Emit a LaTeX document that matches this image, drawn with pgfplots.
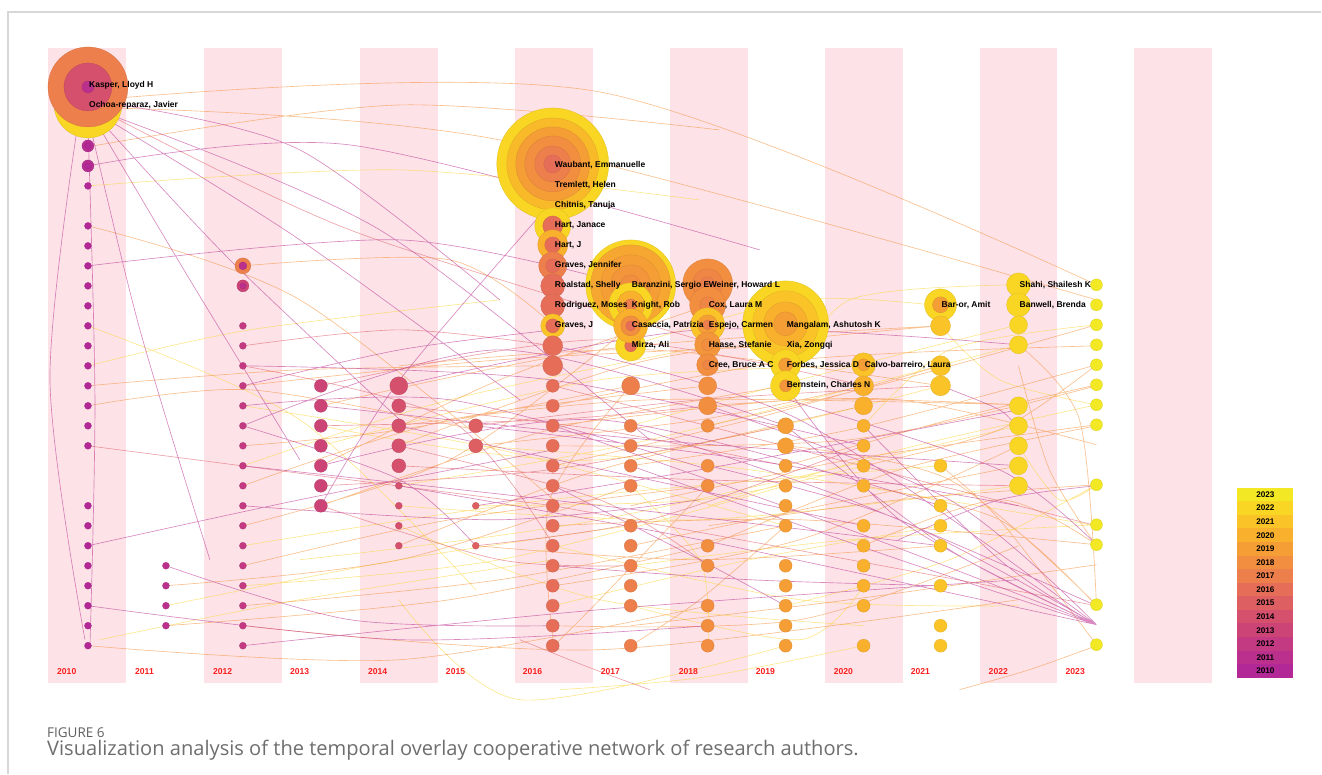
\documentclass[border=0pt]{standalone}
\usepackage{pgfplots}
\pgfplotsset{compat=1.18}
\usepackage{fontspec}
\setmainfont{Liberation Sans}
\newfontfamily\capfont{Open Sans}
\definecolor{yr2010}{RGB}{178,40,150}
\definecolor{yr2011}{RGB}{186,48,140}
\definecolor{yr2012}{RGB}{195,58,130}
\definecolor{yr2013}{RGB}{204,68,118}
\definecolor{yr2014}{RGB}{212,80,108}
\definecolor{yr2015}{RGB}{221,95,98}
\definecolor{yr2016}{RGB}{230,110,88}
\definecolor{yr2017}{RGB}{237,127,76}
\definecolor{yr2018}{RGB}{242,142,64}
\definecolor{yr2019}{RGB}{245,158,54}
\definecolor{yr2020}{RGB}{248,176,45}
\definecolor{yr2021}{RGB}{250,196,40}
\definecolor{yr2022}{RGB}{248,214,35}
\definecolor{yr2023}{RGB}{242,232,36}
\definecolor{stripe}{RGB}{253,227,232}
\definecolor{eP}{RGB}{190,60,150}
\definecolor{eR}{RGB}{225,100,110}
\definecolor{eO}{RGB}{245,150,70}
\definecolor{eY}{RGB}{250,215,70}
\definecolor{yrlab}{RGB}{250,30,30}
\definecolor{frame}{RGB}{215,215,215}
\begin{document}
\begin{tikzpicture}
\begin{axis}[
  set layers,
  scale only axis, width=1322pt, height=774pt,
  xmin=0, xmax=1322, ymin=0, ymax=774, y dir=reverse,
  hide axis, clip=false,
  colormap={yrs}{rgb255=(178,40,150) rgb255=(186,48,140) rgb255=(195,58,130) rgb255=(204,68,118) rgb255=(212,80,108) rgb255=(221,95,98) rgb255=(230,110,88) rgb255=(237,127,76) rgb255=(242,142,64) rgb255=(245,158,54) rgb255=(248,176,45) rgb255=(250,196,40) rgb255=(248,214,35) rgb255=(242,232,36)},
  point meta min=2010, point meta max=2023,
  edge/.style={smooth, unbounded coords=jump, line width=0.65pt, opacity=0.6, forget plot},
]
\path (axis cs:0,0) rectangle (axis cs:1322,774);
% frame
\addplot[draw=frame, line width=1.3pt, forget plot] coordinates {(8,774) (8,12) (1322,12)};
% stripes
\addplot[fill=stripe, draw=none] coordinates {(48,48) (126,48) (126,683) (48,683)};
\addplot[fill=stripe, draw=none] coordinates {(204,48) (282,48) (282,683) (204,683)};
\addplot[fill=stripe, draw=none] coordinates {(360,48) (438,48) (438,683) (360,683)};
\addplot[fill=stripe, draw=none] coordinates {(515,48) (593,48) (593,683) (515,683)};
\addplot[fill=stripe, draw=none] coordinates {(670,48) (748,48) (748,683) (670,683)};
\addplot[fill=stripe, draw=none] coordinates {(825,48) (903,48) (903,683) (825,683)};
\addplot[fill=stripe, draw=none] coordinates {(980,48) (1058,48) (1058,683) (980,683)};
\addplot[fill=stripe, draw=none] coordinates {(1135,48) (1213,48) (1213,683) (1135,683)};
% edges - yellow
\addplot[edge, draw=eY] table[row sep=\\]{x y\\
88 186\\ 400 170\\ 700 200\\ nan nan\\
88 326\\ 300 420\\ 476 590\\ nan nan\\
100 640\\ 300 600\\ 554 560\\ nan nan\\
243 406\\ 500 450\\ 786 526\\ nan nan\\
399 506\\ 700 520\\ 1019 486\\ nan nan\\
631 606\\ 800 640\\ 864 586\\ nan nan\\
399 600\\ 520 700\\ 786 646\\ nan nan\\
560 690\\ 700 678\\ 864 646\\ nan nan\\
864 426\\ 950 350\\ 1097 325\\ nan nan\\
941 326\\ 1000 380\\ 1097 405\\ nan nan\\
1019 446\\ 1060 500\\ 1097 485\\ nan nan\\
786 386\\ 850 300\\ 1019 285\\ nan nan\\
631 346\\ 800 300\\ 941 306\\ nan nan\\
243 546\\ 550 500\\ 941 466\\ nan nan\\
321 446\\ 600 380\\ 864 366\\ nan nan\\
476 446\\ 750 470\\ 1097 526\\ nan nan\\
554 606\\ 750 560\\ 941 526\\ nan nan\\
88 366\\ 250 330\\ 500 300\\ nan nan\\
631 486\\ 700 560\\ 709 640\\ nan nan\\
166 606\\ 400 560\\ 631 526\\ nan nan\\
300 560\\ 600 520\\ 1019 426\\ nan nan\\
321 426\\ 600 460\\ 941 386\\ nan nan\\
399 486\\ 650 440\\ 1019 345\\ nan nan\\
476 506\\ 700 500\\ 864 466\\ nan nan\\
243 466\\ 450 400\\ 709 346\\ nan nan\\
243 586\\ 500 560\\ 786 486\\ nan nan\\
631 426\\ 800 380\\ 1019 325\\ nan nan\\
709 506\\ 900 450\\ 1097 405\\ nan nan\\
554 546\\ 800 600\\ 1019 606\\ nan nan\\
399 526\\ 600 600\\ 864 626\\ nan nan\\
786 606\\ 950 560\\ 1097 485\\ nan nan\\
631 566\\ 850 540\\ 1097 525\\ nan nan\\
};
% edges - orange
\addplot[edge, draw=eO] table[row sep=\\]{x y\\
96 100\\ 600 92\\ 1097 285\\ nan nan\\
93 146\\ 400 105\\ 720 130\\ nan nan\\
110 108\\ 500 140\\ 1097 300\\ nan nan\\
88 226\\ 300 300\\ 554 500\\ nan nan\\
88 406\\ 250 390\\ 476 430\\ nan nan\\
243 446\\ 400 430\\ 631 386\\ nan nan\\
243 486\\ 450 420\\ 709 386\\ nan nan\\
321 506\\ 550 430\\ 786 386\\ nan nan\\
399 546\\ 600 470\\ 864 406\\ nan nan\\
554 426\\ 800 400\\ 1019 405\\ nan nan\\
554 446\\ 850 440\\ 1097 386\\ nan nan\\
631 466\\ 850 430\\ 1097 365\\ nan nan\\
709 426\\ 900 380\\ 1097 325\\ nan nan\\
786 466\\ 950 420\\ 1097 385\\ nan nan\\
554 526\\ 800 520\\ 1097 545\\ nan nan\\
631 546\\ 850 500\\ 1019 466\\ nan nan\\
476 546\\ 700 560\\ 941 546\\ nan nan\\
243 566\\ 450 520\\ 709 486\\ nan nan\\
166 586\\ 400 560\\ 631 486\\ nan nan\\
88 646\\ 400 660\\ 709 606\\ nan nan\\
243 626\\ 600 650\\ 1019 600\\ nan nan\\
864 486\\ 1000 520\\ 1097 606\\ nan nan\\
941 466\\ 1000 520\\ 1097 645\\ nan nan\\
1019 366\\ 1050 470\\ 1097 546\\ nan nan\\
1019 345\\ 1080 420\\ 1097 606\\ nan nan\\
1097 646\\ 1030 670\\ 960 690\\ nan nan\\
554 366\\ 300 370\\ 88 386\\ nan nan\\
554 326\\ 450 260\\ 243 266\\ nan nan\\
631 386\\ 550 500\\ 554 646\\ nan nan\\
709 486\\ 600 600\\ 554 646\\ nan nan\\
786 526\\ 700 600\\ 631 646\\ nan nan\\
321 466\\ 500 380\\ 709 305\\ nan nan\\
243 526\\ 450 460\\ 631 326\\ nan nan\\
399 446\\ 650 360\\ 941 326\\ nan nan\\
554 406\\ 800 360\\ 1097 346\\ nan nan\\
709 546\\ 900 470\\ 1097 426\\ nan nan\\
864 546\\ 1000 500\\ 1097 545\\ nan nan\\
243 386\\ 500 360\\ 786 346\\ nan nan\\
321 406\\ 600 350\\ 941 326\\ nan nan\\
399 426\\ 650 400\\ 1019 405\\ nan nan\\
476 446\\ 700 420\\ 864 386\\ nan nan\\
554 466\\ 750 420\\ 941 366\\ nan nan\\
631 506\\ 850 460\\ 1097 425\\ nan nan\\
709 526\\ 900 500\\ 1097 485\\ nan nan\\
243 606\\ 500 580\\ 786 526\\ nan nan\\
166 626\\ 450 600\\ 709 546\\ nan nan\\
554 586\\ 800 540\\ 1019 446\\ nan nan\\
631 626\\ 850 600\\ 1097 565\\ nan nan\\
399 366\\ 650 350\\ 941 386\\ nan nan\\
786 446\\ 950 480\\ 1097 605\\ nan nan\\
864 466\\ 1000 430\\ 1097 365\\ nan nan\\
709 406\\ 900 400\\ 1097 445\\ nan nan\\
554 626\\ 800 620\\ 1019 546\\ nan nan\\
};
% edges - red
\addplot[edge, draw=eR] table[row sep=\\]{x y\\
321 386\\ 600 340\\ 864 386\\ nan nan\\
321 426\\ 550 420\\ 709 406\\ nan nan\\
399 466\\ 700 480\\ 1019 486\\ nan nan\\
243 346\\ 400 330\\ 554 346\\ nan nan\\
554 386\\ 800 450\\ 1097 526\\ nan nan\\
476 426\\ 700 400\\ 941 386\\ nan nan\\
554 506\\ 850 560\\ 1097 606\\ nan nan\\
399 406\\ 600 430\\ 786 466\\ nan nan\\
88 446\\ 350 480\\ 554 506\\ nan nan\\
520 640\\ 590 668\\ 650 690\\ nan nan\\
100 110\\ 350 230\\ 700 340\\ nan nan\\
321 486\\ 550 470\\ 786 426\\ nan nan\\
399 446\\ 600 500\\ 709 566\\ nan nan\\
476 546\\ 650 520\\ 864 446\\ nan nan\\
321 506\\ 500 560\\ 631 566\\ nan nan\\
243 366\\ 450 420\\ 554 546\\ nan nan\\
};
% edges - purple
\addplot[edge, draw=eP] table[row sep=\\]{x y\\
95 120\\ 190 280\\ 300 460\\ nan nan\\
98 118\\ 230 260\\ 400 420\\ nan nan\\
100 115\\ 300 240\\ 520 400\\ nan nan\\
102 112\\ 380 230\\ 650 440\\ nan nan\\
90 125\\ 140 330\\ 210 560\\ nan nan\\
88 125\\ 95 400\\ 90 646\\ nan nan\\
80 110\\ 50 380\\ 85 640\\ nan nan\\
120 105\\ 300 150\\ 500 300\\ nan nan\\
88 166\\ 350 145\\ 760 250\\ nan nan\\
243 386\\ 400 350\\ 554 330\\ nan nan\\
243 406\\ 450 400\\ 709 470\\ nan nan\\
243 426\\ 400 480\\ 476 546\\ nan nan\\
243 426\\ 500 350\\ 786 426\\ nan nan\\
321 466\\ 600 420\\ 941 506\\ nan nan\\
399 386\\ 700 330\\ 1019 345\\ nan nan\\
399 426\\ 650 480\\ 864 526\\ nan nan\\
554 346\\ 800 420\\ 1097 625\\ nan nan\\
631 426\\ 850 500\\ 1097 606\\ nan nan\\
786 386\\ 900 520\\ 1097 625\\ nan nan\\
786 426\\ 950 550\\ 1097 625\\ nan nan\\
864 426\\ 1000 560\\ 1097 625\\ nan nan\\
709 466\\ 900 520\\ 1097 625\\ nan nan\\
554 486\\ 700 560\\ 786 606\\ nan nan\\
243 506\\ 500 520\\ 700 500\\ nan nan\\
554 566\\ 750 580\\ 941 586\\ nan nan\\
476 506\\ 700 470\\ 1019 410\\ nan nan\\
88 546\\ 300 500\\ 554 450\\ nan nan\\
166 566\\ 350 620\\ 554 626\\ nan nan\\
243 646\\ 600 610\\ 1019 580\\ nan nan\\
788 400\\ 1000 470\\ 1097 545\\ nan nan\\
554 200\\ 400 380\\ 321 506\\ nan nan\\
88 266\\ 400 240\\ 631 286\\ nan nan\\
941 386\\ 1000 410\\ 1019 430\\ nan nan\\
899 540\\ 1000 500\\ 1097 486\\ nan nan\\
243 366\\ 550 380\\ 864 446\\ nan nan\\
321 406\\ 650 440\\ 1019 466\\ nan nan\\
399 486\\ 700 540\\ 1097 625\\ nan nan\\
631 466\\ 900 560\\ 1097 625\\ nan nan\\
554 426\\ 850 530\\ 1097 625\\ nan nan\\
709 406\\ 950 500\\ 1097 625\\ nan nan\\
243 466\\ 550 500\\ 941 546\\ nan nan\\
88 606\\ 400 640\\ 709 626\\ nan nan\\
476 426\\ 750 460\\ 1019 506\\ nan nan\\
};
% nodes
\addplot[scatter, only marks, mark=*, forget plot,
  point meta=\thisrow{c},
  scatter/use mapped color={draw=mapped color!88!black, fill=mapped color},
  visualization depends on={\thisrow{r}\as\rr},
  scatter/@pre marker code/.append style={/tikz/mark size=\rr},
  line width=0.25pt]
table[x=x, y=y, row sep=\\]{x y r c\\
88 104 34 2022\\ 88 87 40 2017\\ 88 87 24 2014\\ 88 87 6 2011\\
88 146 6 2010.5\\ 88 146 3 2010\\ 88 166 6 2010.5\\ 88 166 3 2010\\ 88 186 3.5 2010\\
88 226 3.5 2010\\ 88 246 3.5 2010\\ 88 266 3.5 2010\\ 88 286 3.5 2010\\ 88 306 3.5 2010\\ 88 326 3.5 2010\\
88 346 3.5 2010\\ 88 366 3.5 2010\\ 88 386 3.5 2010\\ 88 406 3.5 2010\\ 88 426 3.5 2010\\ 88 446 3.5 2010\\
88 506 3.5 2010\\ 88 526 3.5 2010\\ 88 546 3.5 2010\\ 88 566 3.5 2010\\ 88 586 3.5 2010\\ 88 606 3.5 2010\\ 88 626 3.5 2010\\ 88 646 3.5 2010\\
166 566 3.5 2011\\ 166 586 3.5 2011\\ 166 606 3.5 2011\\ 166 626 3.5 2011\\
243 266 8 2017\\ 243 266 4 2011\\ 243 286 6 2013\\ 243 286 3 2011\\
243 326 3.5 2012\\ 243 346 3.5 2012\\ 243 366 3.5 2012\\ 243 386 3.5 2012\\ 243 406 3.5 2012\\ 243 426 3.5 2012\\
243 446 3.5 2012\\ 243 466 3.5 2012\\ 243 486 3.5 2012\\ 243 506 3.5 2012\\ 243 526 3.5 2012\\ 243 546 3.5 2012\\
243 566 3.5 2012\\ 243 586 3.5 2012\\ 243 606 3.5 2012\\ 243 626 3.5 2012\\ 243 646 3.5 2012\\
321 386 6.5 2013\\ 321 406 6.5 2013\\ 321 426 6.5 2013\\ 321 446 6.5 2013\\ 321 466 6.5 2013\\ 321 486 6.5 2013\\ 321 506 6.5 2013\\
399 386 9 2014\\ 399 406 7 2014\\ 399 426 7 2014\\ 399 446 7 2014\\ 399 466 7 2014\\
399 486 3.5 2014\\ 399 506 3.5 2014\\ 399 526 3.5 2014\\ 399 546 3.5 2014\\
476 426 7 2015\\ 476 446 7 2015\\ 476 506 3.5 2015\\ 476 546 3.5 2015\\
553 164 56 2022\\ 553 164 46 2020.5\\ 553 164 37 2019\\ 553 164 28 2018\\ 553 164 18 2017\\ 553 164 9 2016\\
553 226 18 2022\\ 553 226 10 2016\\ 553 245 15 2020\\ 553 245 8 2016\\ 553 266 14 2017\\ 553 266 7 2016\\
553 286 12 2016\\ 553 306 12 2016\\ 553 326 12 2021\\ 553 326 7 2016\\ 553 346 10 2016\\ 553 366 10 2016\\
553 386 6.5 2016\\ 553 406 6.5 2016\\ 553 426 6.5 2016\\ 553 446 6.5 2016\\ 553 466 6.5 2016\\ 553 486 6.5 2016\\ 553 506 6.5 2016\\
553 526 6.5 2016\\ 553 546 6.5 2016\\ 553 566 6.5 2016\\ 553 586 6.5 2016\\ 553 606 6.5 2016\\ 553 626 6.5 2016\\ 553 646 6.5 2016\\
631 285 45 2022\\ 631 285 40 2019.5\\ 631 285 30 2019\\ 631 285 20 2018.5\\ 631 285 10 2018\\
631 346 15 2022\\ 631 346 6 2016\\
631 305 22 2022\\ 631 305 14 2020\\ 631 305 6 2017\\
631 326 17 2020\\ 631 326 10 2018\\ 631 326 5 2016\\
631 386 9 2017\\ 631 426 6.5 2017\\ 631 446 6.5 2017\\ 631 466 6.5 2017\\ 631 486 6.5 2017\\ 631 526 6.5 2017\\
631 546 6.5 2017\\ 631 566 6.5 2017\\ 631 586 6.5 2017\\ 631 606 6.5 2017\\ 631 646 6.5 2017\\
708 284 25 2018\\ 708 284 15 2017.5\\ 708 284 7 2017\\
708 305 18 2018\\ 708 305 8 2017.5\\
708 325 17 2021\\ 708 325 10 2019\\ 708 325 5 2017\\
708 345 13 2018.5\\ 708 345 6 2018\\ 708 365 11 2018\\ 708 365 5 2017.5\\
708 386 9 2018\\ 708 406 9 2018\\ 708 426 6.5 2018\\ 708 466 6.5 2018\\ 708 486 6.5 2018\\ 708 546 6.5 2018\\
708 566 6.5 2018\\ 708 606 6.5 2018\\ 708 626 6.5 2018\\ 708 646 6.5 2018\\
786 324 43 2022\\ 786 324 33 2021\\ 786 324 22 2020\\ 786 324 12 2019\\
786 365 15 2022\\ 786 365 7 2019\\ 786 386 15 2022\\ 786 386 6 2018.5\\
786 426 8 2019\\ 786 446 8 2019\\ 786 466 6.5 2019\\ 786 486 6.5 2019\\ 786 506 6.5 2019\\ 786 526 6.5 2019\\
786 566 6.5 2019\\ 786 586 6.5 2019\\ 786 606 6.5 2019\\ 786 626 6.5 2019\\ 786 646 6.5 2019\\
864 365 12 2021\\ 864 365 6 2019\\ 864 386 10 2020\\ 864 406 9 2020\\
864 426 6.5 2020\\ 864 446 6.5 2020\\ 864 466 6.5 2020\\ 864 486 6.5 2020\\ 864 526 6.5 2020\\
864 546 6.5 2020\\ 864 566 6.5 2020\\ 864 586 6.5 2020\\ 864 606 6.5 2020\\ 864 646 6.5 2020\\
941 305 16 2022\\ 941 305 8 2019\\ 941 326 10 2021\\ 941 366 10 2021\\ 941 386 10 2021\\
941 466 6.5 2021\\ 941 506 6.5 2021\\ 941 526 6.5 2021\\ 941 546 6.5 2021\\ 941 586 6.5 2021\\ 941 626 6.5 2021\\ 941 646 6.5 2021\\
1019 285 12 2022\\ 1019 305 12 2022\\ 1019 325 9 2022\\ 1019 345 9 2022\\
1019 406 9 2022\\ 1019 426 9 2022\\ 1019 446 9 2022\\ 1019 466 9 2022\\ 1019 486 9 2022\\
1097 285 6 2023\\ 1097 305 6 2023\\ 1097 325 6 2023\\ 1097 345 6 2023\\ 1097 365 6 2023\\ 1097 385 6 2023\\
1097 405 6 2023\\ 1097 425 6 2023\\ 1097 485 6 2023\\ 1097 525 6 2023\\ 1097 545 6 2023\\ 1097 605 6 2023\\ 1097 645 6 2023\\
};
\begin{pgfonlayer}{axis foreground}
% author labels
\begin{scope}[every node/.style={anchor=west, inner sep=0pt, font=\bfseries\fontsize{8.5}{9}\selectfont}]
\node at (axis cs:89,85) {Kasper, Lloyd H};
\node at (axis cs:89,105) {Ochoa-reparaz, Javier};
\node at (axis cs:555,165) {Waubant, Emmanuelle};
\node at (axis cs:555,185) {Tremlett, Helen};
\node at (axis cs:555,205) {Chitnis, Tanuja};
\node at (axis cs:555,225) {Hart, Janace};
\node at (axis cs:555,245) {Hart, J};
\node at (axis cs:555,265) {Graves, Jennifer};
\node at (axis cs:555,285) {Roalstad, Shelly};
\node at (axis cs:555,305) {Rodriguez, Moses};
\node at (axis cs:555,325) {Graves, J};
\node at (axis cs:632,285) {Baranzini, Sergio E};
\node at (axis cs:632,305) {Knight, Rob};
\node at (axis cs:632,325) {Casaccia, Patrizia};
\node at (axis cs:632,345) {Mirza, Ali};
\node at (axis cs:709,285) {Weiner, Howard L};
\node at (axis cs:709,305) {Cox, Laura M};
\node at (axis cs:709,325) {Espejo, Carmen};
\node at (axis cs:709,345) {Haase, Stefanie};
\node at (axis cs:709,365) {Cree, Bruce A C};
\node at (axis cs:787,325) {Mangalam, Ashutosh K};
\node at (axis cs:787,345) {Xia, Zongqi};
\node at (axis cs:787,365) {Forbes, Jessica D};
\node at (axis cs:787,385) {Bernstein, Charles N};
\node at (axis cs:865,365) {Calvo-barreiro, Laura};
\node at (axis cs:942,305) {Bar-or, Amit};
\node at (axis cs:1020,285) {Shahi, Shailesh K};
\node at (axis cs:1020,305) {Banwell, Brenda};
\end{scope}
% year labels
\begin{scope}[every node/.style={anchor=west, inner sep=0pt, text=yrlab, font=\bfseries\fontsize{8.6}{9}\selectfont}]
\node at (axis cs:57,672) {2010};
\node at (axis cs:135,672) {2011};
\node at (axis cs:213,672) {2012};
\node at (axis cs:290,672) {2013};
\node at (axis cs:368,672) {2014};
\node at (axis cs:446,672) {2015};
\node at (axis cs:523,672) {2016};
\node at (axis cs:601,672) {2017};
\node at (axis cs:679,672) {2018};
\node at (axis cs:756,672) {2019};
\node at (axis cs:834,672) {2020};
\node at (axis cs:911,672) {2021};
\node at (axis cs:989,672) {2022};
\node at (axis cs:1066,672) {2023};
\end{scope}
% colour legend
\pgfplotsinvokeforeach{2010,...,2023}{
  \fill[yr#1] (axis cs:1238,{488+13.57*(2023-#1)}) rectangle (axis cs:1294,{488+13.57*(2024-#1)});
  \node[inner sep=0pt, font=\bfseries\fontsize{8.2}{9}\selectfont] at (axis cs:1266,{494.8+13.57*(2023-#1)}) {#1};
}
% caption
\node[anchor=west, inner sep=0pt, text={rgb,255:red,95;green,95;blue,95}, font=\capfont\fontsize{13.5}{16}\selectfont] at (axis cs:47,733) {FIGURE 6};
\node[anchor=west, inner sep=0pt, text={rgb,255:red,110;green,110;blue,110}, font=\capfont\fontsize{20.1}{22}\selectfont] at (axis cs:47,751) {Visualization analysis of the temporal overlay cooperative network of research authors.};
\end{pgfonlayer}
\end{axis}
\end{tikzpicture}
\end{document}
